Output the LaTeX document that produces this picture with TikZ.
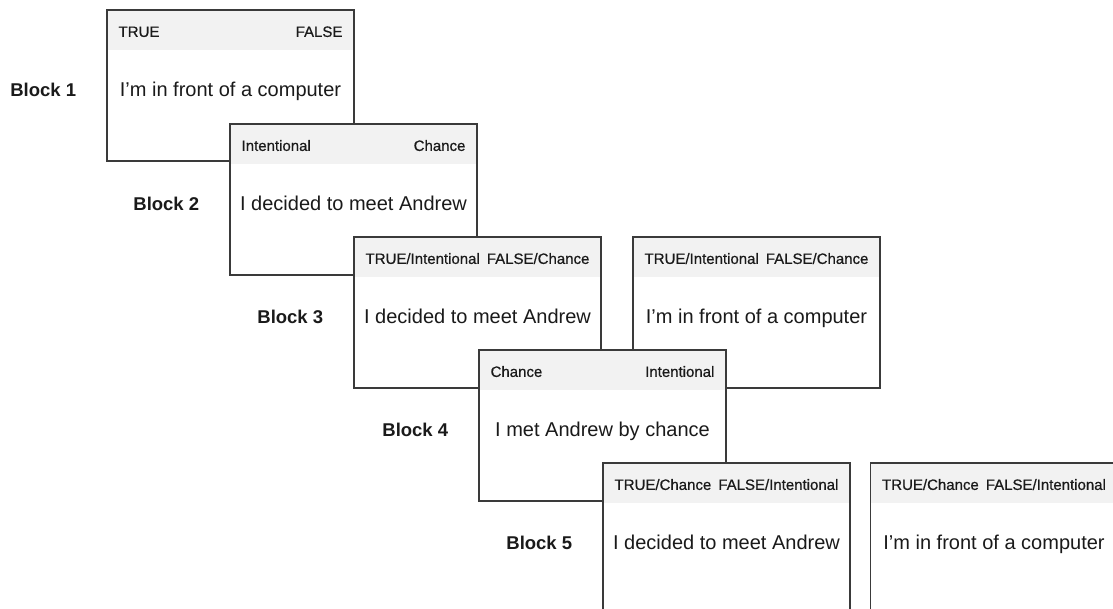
\documentclass[tikz,border=0pt]{standalone}
\usepackage{fontspec}
\setmainfont{Liberation Sans}
\newfontfamily\headfont[FakeBold=0.6]{Liberation Sans}
\usepackage{tikz}
\usetikzlibrary{positioning}
\definecolor{headgray}{HTML}{F2F2F2}
\definecolor{edgegray}{HTML}{3A3A3A}
\definecolor{inkblack}{HTML}{1A1A1A}

\begin{document}
\begin{tikzpicture}[x=1pt,y=-1pt]
 \tikzset{card/.style={draw=edgegray,fill=white,line width=1.2pt,inner sep=0pt,
   minimum width=247pt,minimum height=151pt,
   path picture={\fill[headgray] (path picture bounding box.north west) rectangle ([yshift=-40pt]path picture bounding box.north east);}},
  head/.style={inner sep=0pt,text=inkblack,font=\headfont\fontsize{15}{18}\selectfont},
  body/.style={inner sep=0pt,text=inkblack,font=\fontsize{20}{24}\selectfont},
  tag/.style={inner sep=0pt,text=inkblack,font=\fontsize{18.5}{22}\selectfont\bfseries}}
 \useasboundingbox (0,0) rectangle (1113,609);
 \clip (0,0) rectangle (1113,609);

 \node[card] (b1) at (230.5,85.5) {};
 \node[head,anchor=base west] (h1l) at ([xshift=12pt,yshift=-27.5pt]b1.north west) {TRUE};
 \node[head,anchor=base east] (h1r) at ([xshift=-12pt,yshift=-27.5pt]b1.north east) {FALSE};
 \node[body,anchor=base] (t1) at ([yshift=-87pt]b1.north) {I’m in front of a computer};
 \node[tag,anchor=base east,xshift=-30pt] (l1) at (b1.west |- t1.base) {Block 1};

 \node[card] (b2) at (353.5,199.5) {};
 \node[head,anchor=base west] (h2l) at ([xshift=12pt,yshift=-27.5pt]b2.north west) {Intentional};
 \node[head,anchor=base east] (h2r) at ([xshift=-12pt,yshift=-27.5pt]b2.north east) {Chance};
 \node[body,anchor=base] (t2) at ([yshift=-87pt]b2.north) {I decided to meet Andrew};
 \node[tag,anchor=base east,xshift=-30pt] (l2) at (b2.west |- t2.base) {Block 2};

 \node[card] (b3) at (477.5,312.5) {};
 \node[head,anchor=base west] (h3l) at ([xshift=12pt,yshift=-27.5pt]b3.north west) {TRUE/Intentional};
 \node[head,anchor=base east] (h3r) at ([xshift=-12pt,yshift=-27.5pt]b3.north east) {FALSE/Chance};
 \node[body,anchor=base] (t3) at ([yshift=-87pt]b3.north) {I decided to meet Andrew};
 \node[tag,anchor=base east,xshift=-30pt] (l3) at (b3.west |- t3.base) {Block 3};

 \node[card] (b3r) at (756.5,312.5) {};
 \node[head,anchor=base west] (h3rl) at ([xshift=12pt,yshift=-27.5pt]b3r.north west) {TRUE/Intentional};
 \node[head,anchor=base east] (h3rr) at ([xshift=-12pt,yshift=-27.5pt]b3r.north east) {FALSE/Chance};
 \node[body,anchor=base] (t3r) at ([yshift=-87pt]b3r.north) {I’m in front of a computer};

 \node[card] (b4) at (602.5,425.5) {};
 \node[head,anchor=base west] (h4l) at ([xshift=12pt,yshift=-27.5pt]b4.north west) {Chance};
 \node[head,anchor=base east] (h4r) at ([xshift=-12pt,yshift=-27.5pt]b4.north east) {Intentional};
 \node[body,anchor=base] (t4) at ([yshift=-87pt]b4.north) {I met Andrew by chance};
 \node[tag,anchor=base east,xshift=-30pt] (l4) at (b4.west |- t4.base) {Block 4};

 \node[card] (b5) at (726.5,538.5) {};
 \node[head,anchor=base west] (h5l) at ([xshift=12pt,yshift=-27.5pt]b5.north west) {TRUE/Chance};
 \node[head,anchor=base east] (h5r) at ([xshift=-12pt,yshift=-27.5pt]b5.north east) {FALSE/Intentional};
 \node[body,anchor=base] (t5) at ([yshift=-87pt]b5.north) {I decided to meet Andrew};
 \node[tag,anchor=base east,xshift=-30pt] (l5) at (b5.west |- t5.base) {Block 5};

 \node[card] (b5r) at (994,538.5) {};
 \node[head,anchor=base west] (h5rl) at ([xshift=12pt,yshift=-27.5pt]b5r.north west) {TRUE/Chance};
 \node[head,anchor=base east] (h5rr) at ([xshift=-12pt,yshift=-27.5pt]b5r.north east) {FALSE/Intentional};
 \node[body,anchor=base] (t5r) at ([yshift=-87pt]b5r.north) {I’m in front of a computer};
\end{tikzpicture}
\end{document}
